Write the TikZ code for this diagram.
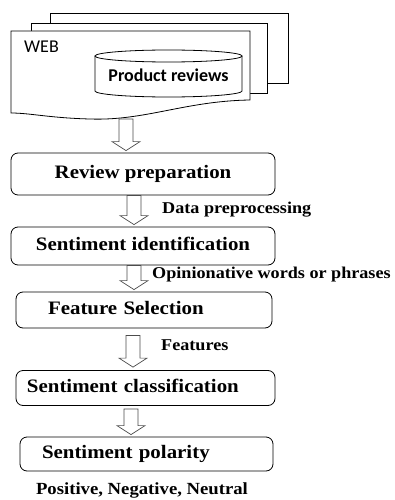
\documentclass[tikz,border=0pt]{standalone}
\usepackage{fontspec}
\newfontfamily\stagefont{Liberation Serif}[FakeStretch=1.1]
\newfontfamily\calfont{Carlito}
\usetikzlibrary{calc}

% block arrow: #1 = x of the shaft axis, #2 = start point, #3 = tip point
\newcommand\blockarrow[3]{%
  \draw[blockarr] let \p1=(#2), \p2=(#3) in
    (#1pt-7pt,\y1) -- (#1pt+7pt,\y1) -- (#1pt+7pt,\y2+9pt) -- (#1pt+14pt,\y2+9pt)
    -- (#1pt,\y2) -- (#1pt-14pt,\y2+9pt) -- (#1pt-7pt,\y2+9pt) -- cycle;}

\tikzset{
  page/.style={draw=black, line width=0.8pt, fill=white},
  stagebox/.style={draw=black, line width=0.8pt, rounded corners=7pt,
    font=\stagefont\bfseries\fontsize{19}{22}\selectfont,
    text height=13pt, text depth=4pt, inner ysep=0pt},
  note/.style={font=\stagefont\bfseries\fontsize{16.5}{19}\selectfont, inner sep=0pt},
  blockarr/.style={draw=black!70, line width=0.7pt, fill=white},
}

\begin{document}
\begin{tikzpicture}[x=1pt, y=1pt]
  \useasboundingbox (0,0) rectangle (395,-500);

  % stacked web pages
  \draw[page] (50,-13) rectangle (288,-83);
  \draw[page] (31,-23) rectangle (267,-93);
  \draw[page] (11,-31) -- (250,-31) -- (250,-100)
    .. controls (185,-101) and (145,-121) .. (90,-119)
    .. controls (50,-118) and (30,-113) .. (11,-113) -- cycle;
  \node[font=\calfont\fontsize{18}{20}\selectfont, anchor=west, inner sep=0pt] (web) at (24,-47) {WEB};

  % database cylinder
  \draw[line width=0.8pt, fill=white] (95,-56) -- (95,-91)
    arc[start angle=180, end angle=360, x radius=73.5, y radius=6] -- (242,-56);
  \draw[line width=0.8pt] (168.5,-56) ellipse [x radius=73.5, y radius=6];
  \node[font=\calfont\bfseries\fontsize{18}{20}\selectfont, inner sep=0pt] (pr) at (168.5,-75) {Product reviews};
  \coordinate (docbottom) at (126,-119);

  % processing stages
  \node[stagebox, minimum width=264pt, minimum height=42pt] (rp) at (143,-174) {Review preparation};
  \node[stagebox, minimum width=264pt, minimum height=38pt] (si) at (143,-246) {Sentiment identification};
  \node[stagebox, minimum height=36pt, text width=192pt, inner xsep=32pt, align=left] (fs) at (144,-310) {Feature Selection};
  \node[stagebox, minimum height=35pt, text width=237pt, inner xsep=11pt, align=left] (sc) at (145.5,-388) {Sentiment classification};
  \node[stagebox, minimum height=34pt, text width=209pt, inner xsep=22pt, align=left] (sp) at (146.5,-454) {Sentiment polarity};

  % arrows between stages
  \blockarrow{126}{docbottom}{$(rp.north)+(0,2)$}
  \blockarrow{134}{rp.south}{$(si.north)+(0,2)$}
  \blockarrow{134}{si.south}{$(fs.north)+(0,2)$}
  \blockarrow{133}{$(fs.south)+(0,-7)$}{$(sc.north)+(0,3)$}
  \blockarrow{131}{$(sc.south)+(0,-3)$}{$(sp.north)+(0,2)$}

  % arrow captions
  \node[note, anchor=west] (l1) at (162,-210) {Data preprocessing};
  \node[note, anchor=west] (l2) at (152,-275) {Opinionative words or phrases};
  \node[note, anchor=west] (l3) at (161,-345) {Features};
  \node[note, font=\stagefont\bfseries\fontsize{17}{20}\selectfont] (out) at (142,-490) {Positive, Negative, Neutral};
\end{tikzpicture}
\end{document}
